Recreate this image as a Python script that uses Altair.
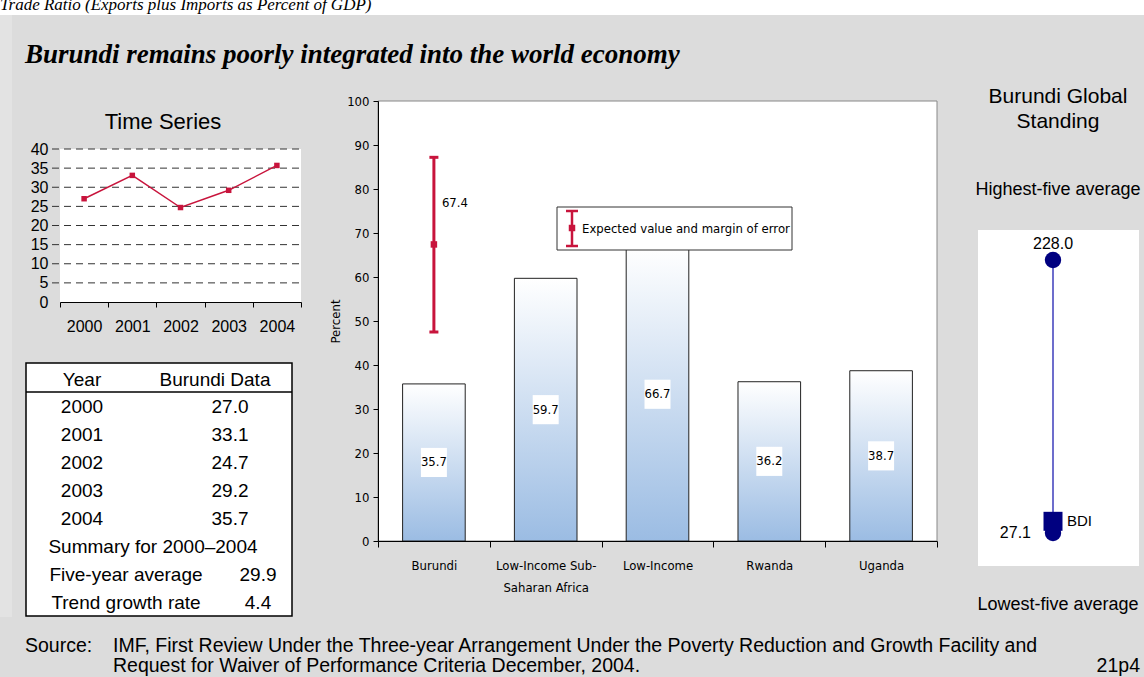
import altair as alt
import pandas as pd

# ---------------- data ----------------
years = ["2000", "2001", "2002", "2003", "2004"]
burundi_ratio = [27.0, 33.1, 24.7, 29.2, 35.7]
ts_ticks = [0, 5, 10, 15, 20, 25, 30, 35, 40]
ts_grid = [5, 10, 15, 20, 25, 30, 35, 40]

categories = ["Burundi", "Low-Income Sub-Saharan Africa", "Low-Income", "Rwanda", "Uganda"]
category_values = [35.7, 59.7, 66.7, 36.2, 38.7]
bar_ticks = [0, 10, 20, 30, 40, 50, 60, 70, 80, 90, 100]
expected_category = ["Burundi"]
expected_value = [67.4]
margin_low = [47.5]
margin_high = [87.2]

table_header = ["Year", "Burundi Data"]
table_values = ["27.0", "33.1", "24.7", "29.2", "35.7"]
summary_title = "Summary for 2000\u20132004"
summary_labels = ["Five-year average", "Trend growth rate"]
summary_values = ["29.9", "4.4"]

standing_names = ["Highest-five average", "Lowest-five average"]
standing_values = [228.0, 27.1]
bdi_label = ["BDI"]
bdi_value = [35.7]

# ---------------- style ----------------
GRAY = "#dcdcdc"
CRIMSON = "#c8143c"
NAVY = "#000080"
LINEBLUE = "#3d3dbb"
SANS = "Liberation Sans, Arial, sans-serif"
NARROW = "Liberation Sans Narrow, Arial Narrow, DejaVu Sans Condensed, sans-serif"
SERIF = "Liberation Serif, Times New Roman, serif"
W, H = 1144, 677

ONE = pd.DataFrame({"k": [0]})


def label(s, x, y, size, font=SANS, align="center", weight="normal", style="normal",
          baseline="middle", color="black"):
    return alt.Chart(ONE).mark_text(
        align=align, baseline=baseline, font=font, fontSize=size,
        fontWeight=weight, fontStyle=style, color=color
    ).encode(x=alt.value(x), y=alt.value(y), text=alt.value(s))


def box(x, x2, y, y2, fill, stroke=None, sw=1.0):
    kw = dict(fill=fill)
    if stroke:
        kw.update(stroke=stroke, strokeWidth=sw)
    else:
        kw.update(strokeWidth=0)
    return alt.Chart(ONE).mark_rect(**kw).encode(
        x=alt.value(x), x2=alt.value(x2), y=alt.value(y), y2=alt.value(y2))


def hline(x, x2, y, color="black", sw=1.0):
    return alt.Chart(ONE).mark_rule(color=color, strokeWidth=sw).encode(
        x=alt.value(x), x2=alt.value(x2), y=alt.value(y))


layers = []

# ---- background pieces ----
layers += [
    box(0, W, 0, 15, "white"),
    label("Trade Ratio (Exports plus Imports as Percent of GDP)", 0, 10, 17, SERIF,
          align="left", style="italic", baseline="alphabetic"),
    box(0, 12, 15, 617, "#e3e3e3"),
    label("Burundi remains poorly integrated into the world economy", 25, 55, 27, SERIF,
          align="left", weight="bold", style="italic"),
]

# ---------------- time series ----------------
df_ts = pd.DataFrame({"year": years, "v": burundi_ratio})
ts_x = alt.Scale(type="band", domain=years, range=[60, 301], paddingInner=0, paddingOuter=0)
ts_y = alt.Scale(type="linear", domain=[0, 40], range=[302, 149], nice=False, zero=False)

ts_xaxis = alt.Axis(orient="bottom", offset=302 - H, title=None, domainColor="black",
                    tickColor="black", tickSize=5, tickBand="extent", labelAngle=0,
                    labelFont=SANS, labelFontSize=16, labelColor="black", labelPadding=11,
                    grid=False, zindex=1)
ts_yaxis = alt.Axis(orient="left", offset=-60, title=None, domain=False, ticks=False,
                    grid=False, values=ts_ticks, labelFont=SANS, labelFontSize=16,
                    labelColor="black", labelPadding=12, labelFlush=False,
                    labelOverlap=False, zindex=1)

layers += [
    label("Time Series", 163, 122, 22),
    box(60, 301, 149, 302, "white"),
    alt.Chart(pd.DataFrame({"g": ts_grid})).mark_rule(
        color="#333333", strokeWidth=1, strokeDash=[7, 5]
    ).encode(y=alt.Y("g:Q", scale=ts_y, axis=None), x=alt.value(52), x2=alt.value(301)),
    alt.Chart(df_ts).mark_line(color=CRIMSON, strokeWidth=1.5).encode(
        x=alt.X("year:N", scale=ts_x, sort=None, axis=ts_xaxis),
        y=alt.Y("v:Q", scale=ts_y, axis=ts_yaxis)),
    alt.Chart(df_ts).mark_square(size=30, color=CRIMSON, opacity=1).encode(
        x=alt.X("year:N", scale=ts_x, sort=None, axis=None),
        y=alt.Y("v:Q", scale=ts_y, axis=None)),
]

# ---------------- table ----------------
row_y = alt.Scale(domain=[0, 7], range=[407, 603], nice=False, zero=False)
df_years = pd.DataFrame({"row": list(range(5)), "year": years, "val": table_values})
df_sum = pd.DataFrame({"row": [6, 7], "lab": summary_labels, "val": summary_values})
TFS = 19

layers += [
    box(26, 292, 363, 616, "white", stroke="black", sw=1.5),
    hline(26, 292, 392, sw=1.5),
    label(table_header[0], 82, 380, TFS),
    label(table_header[1], 215, 380, TFS),
    alt.Chart(df_years).mark_text(font=SANS, fontSize=TFS, color="black").encode(
        x=alt.value(82), y=alt.Y("row:Q", scale=row_y, axis=None), text="year:N"),
    alt.Chart(df_years).mark_text(font=SANS, fontSize=TFS, color="black").encode(
        x=alt.value(230), y=alt.Y("row:Q", scale=row_y, axis=None), text="val:N"),
    label(summary_title, 153, 547, TFS),
    alt.Chart(df_sum).mark_text(font=SANS, fontSize=TFS, color="black").encode(
        x=alt.value(126), y=alt.Y("row:Q", scale=row_y, axis=None), text="lab:N"),
    alt.Chart(df_sum).mark_text(font=SANS, fontSize=TFS, color="black").encode(
        x=alt.value(258), y=alt.Y("row:Q", scale=row_y, axis=None), text="val:N"),
]

# ---------------- bar chart ----------------
df_bar = pd.DataFrame({"cat": categories, "v": category_values})
bar_x = alt.Scale(type="band", domain=categories, range=[378, 937], paddingInner=0,
                  paddingOuter=0)
bar_y = alt.Scale(type="linear", domain=[0, 100], range=[541, 101], nice=False, zero=True)
GRAD = {"gradient": "linear", "x1": 0, "x2": 0, "y1": 0, "y2": 1,
        "stops": [{"offset": 0, "color": "#ffffff"}, {"offset": 1, "color": "#9bbce3"}]}

bar_xaxis = alt.Axis(
    orient="bottom", offset=541 - H, title=None, domainColor="black", tickColor="black",
    tickSize=6, tickBand="extent", labelAngle=0, labelFont=NARROW, labelFontSize=13,
    labelColor="black", labelPadding=12, labelLineHeight=22, grid=False, zindex=1,
    labelExpr="datum.value == 'Low-Income Sub-Saharan Africa' ? "
              "['Low-Income Sub-', 'Saharan Africa'] : datum.label")
bar_yaxis = alt.Axis(
    orient="left", offset=-378, title="Percent", titleFont=NARROW, titleFontSize=13,
    titleFontWeight="normal", titleColor="black", titlePadding=4, values=bar_ticks,
    tickSize=5, tickColor="black", domainColor="black", labelFont=NARROW,
    labelFontSize=13, labelColor="black", labelPadding=4, grid=False, labelFlush=False,
    labelOverlap=False, zindex=1)

BOXPATH = "M-1,-1.12H1V1.12H-1Z"
df_err = pd.DataFrame({"cat": expected_category, "v": expected_value,
                       "lo": margin_low, "hi": margin_high})

layers += [
    box(378, 937, 101, 541, "white", stroke="#888888", sw=1),
    alt.Chart(df_bar).mark_bar(fill=GRAD, stroke="#222222", strokeWidth=1,
                               width=alt.RelativeBandSize(0.56)).encode(
        x=alt.X("cat:N", scale=bar_x, sort=None, axis=bar_xaxis),
        y=alt.Y("v:Q", scale=bar_y, axis=bar_yaxis)),
    alt.Chart(df_bar).transform_calculate(half="datum.v / 2").mark_point(
        shape=BOXPATH, filled=True, fill="white", size=676, opacity=1, strokeWidth=0
    ).encode(x=alt.X("cat:N", scale=bar_x, sort=None, axis=None),
             y=alt.Y("half:Q", scale=bar_y, axis=None)),
    alt.Chart(df_bar).transform_calculate(half="datum.v / 2").mark_text(
        font=NARROW, fontSize=13, color="black"
    ).encode(x=alt.X("cat:N", scale=bar_x, sort=None, axis=None),
             y=alt.Y("half:Q", scale=bar_y, axis=None),
             text=alt.Text("v:Q", format=".1f")),
    # error bar
    alt.Chart(df_err).mark_rule(color=CRIMSON, strokeWidth=3).encode(
        x=alt.X("cat:N", scale=bar_x, sort=None, axis=None),
        y=alt.Y("lo:Q", scale=bar_y, axis=None), y2="hi:Q"),
    alt.Chart(df_err).transform_fold(["lo", "hi"], as_=["end", "ev"]).mark_tick(
        color=CRIMSON, thickness=3, size=9, opacity=1
    ).encode(x=alt.X("cat:N", scale=bar_x, sort=None, axis=None),
             y=alt.Y("ev:Q", scale=bar_y, axis=None)),
    alt.Chart(df_err).mark_square(size=42, color=CRIMSON, opacity=1).encode(
        x=alt.X("cat:N", scale=bar_x, sort=None, axis=None),
        y=alt.Y("v:Q", scale=bar_y, axis=None)),
    alt.Chart(df_err).mark_text(font=NARROW, fontSize=13, color="black", align="left",
                                dx=8, dy=-41).encode(
        x=alt.X("cat:N", scale=bar_x, sort=None, axis=None),
        y=alt.Y("v:Q", scale=bar_y, axis=None),
        text=alt.Text("v:Q", format=".1f")),
    # legend box
    box(557, 792, 207, 250, "white", stroke="#333333", sw=1),
    alt.Chart(ONE).mark_rule(color=CRIMSON, strokeWidth=2.5).encode(
        x=alt.value(572), y=alt.value(211), y2=alt.value(246)),
    hline(566, 578, 211, CRIMSON, 2.5),
    hline(566, 578, 246, CRIMSON, 2.5),
    alt.Chart(ONE).mark_square(size=42, color=CRIMSON, opacity=1).encode(
        x=alt.value(572), y=alt.value(228)),
    label("Expected value and margin of error", 582, 229, 13, NARROW, align="left"),
]

# ---------------- global standing ----------------
df_std = pd.DataFrame({"name": standing_names, "v": standing_values})
df_span = pd.DataFrame({"lo": [min(standing_values)], "hi": [max(standing_values)]})
df_bdi = pd.DataFrame({"name": bdi_label, "v": bdi_value})
st_y = alt.Scale(type="linear", domain=[27.1, 228.0], range=[533, 260], nice=False,
                 zero=False)

layers += [
    label("Burundi Global", 1058, 97, 21),
    label("Standing", 1058, 122, 21),
    label(standing_names[0], 1058, 190, 18),
    label(standing_names[1], 1058, 605, 18),
    box(978, 1139, 230, 566, "white"),
    alt.Chart(df_span).mark_rule(color=LINEBLUE, strokeWidth=1.5).encode(
        x=alt.value(1053), y=alt.Y("lo:Q", scale=st_y, axis=None), y2="hi:Q"),
    alt.Chart(df_std).mark_circle(size=270, color=NAVY, opacity=1).encode(
        x=alt.value(1053), y=alt.Y("v:Q", scale=st_y, axis=None)),
    alt.Chart(df_bdi).mark_square(size=361, color=NAVY, opacity=1).encode(
        x=alt.value(1053), y=alt.Y("v:Q", scale=st_y, axis=None)),
    alt.Chart(df_std).transform_filter(f"datum.name == '{standing_names[0]}'").mark_text(
        font=SANS, fontSize=16, color="black", dy=-16).encode(
        x=alt.value(1053), y=alt.Y("v:Q", scale=st_y, axis=None),
        text=alt.Text("v:Q", format=".1f")),
    alt.Chart(df_std).transform_filter(f"datum.name == '{standing_names[1]}'").mark_text(
        font=SANS, fontSize=16, color="black", align="right", dx=-22).encode(
        x=alt.value(1053), y=alt.Y("v:Q", scale=st_y, axis=None),
        text=alt.Text("v:Q", format=".1f")),
    alt.Chart(df_bdi).mark_text(font=SANS, fontSize=15, color="black", align="left",
                                dx=14).encode(
        x=alt.value(1053), y=alt.Y("v:Q", scale=st_y, axis=None), text="name:N"),
]

# ---------------- source ----------------
SFS = 19.5
layers += [
    label("Source:", 25, 646, SFS, align="left"),
    label("IMF, First Review Under the Three-year Arrangement Under the Poverty Reduction "
          "and Growth Facility and", 113, 646, SFS, align="left"),
    label("Request for Waiver of Performance Criteria December, 2004.", 113, 666, SFS,
          align="left"),
    label("21p4", 1140, 666, SFS, align="right"),
]

chart = alt.layer(*layers).resolve_scale(
    x="independent", y="independent"
).resolve_axis(
    x="independent", y="independent"
).properties(
    width=W, height=H, padding=0, background=GRAY,
    autosize=alt.AutoSizeParams(type="none"),
).configure_view(stroke=None)

chart.save("out.html", embed_options={"renderer": "svg", "actions": False})
